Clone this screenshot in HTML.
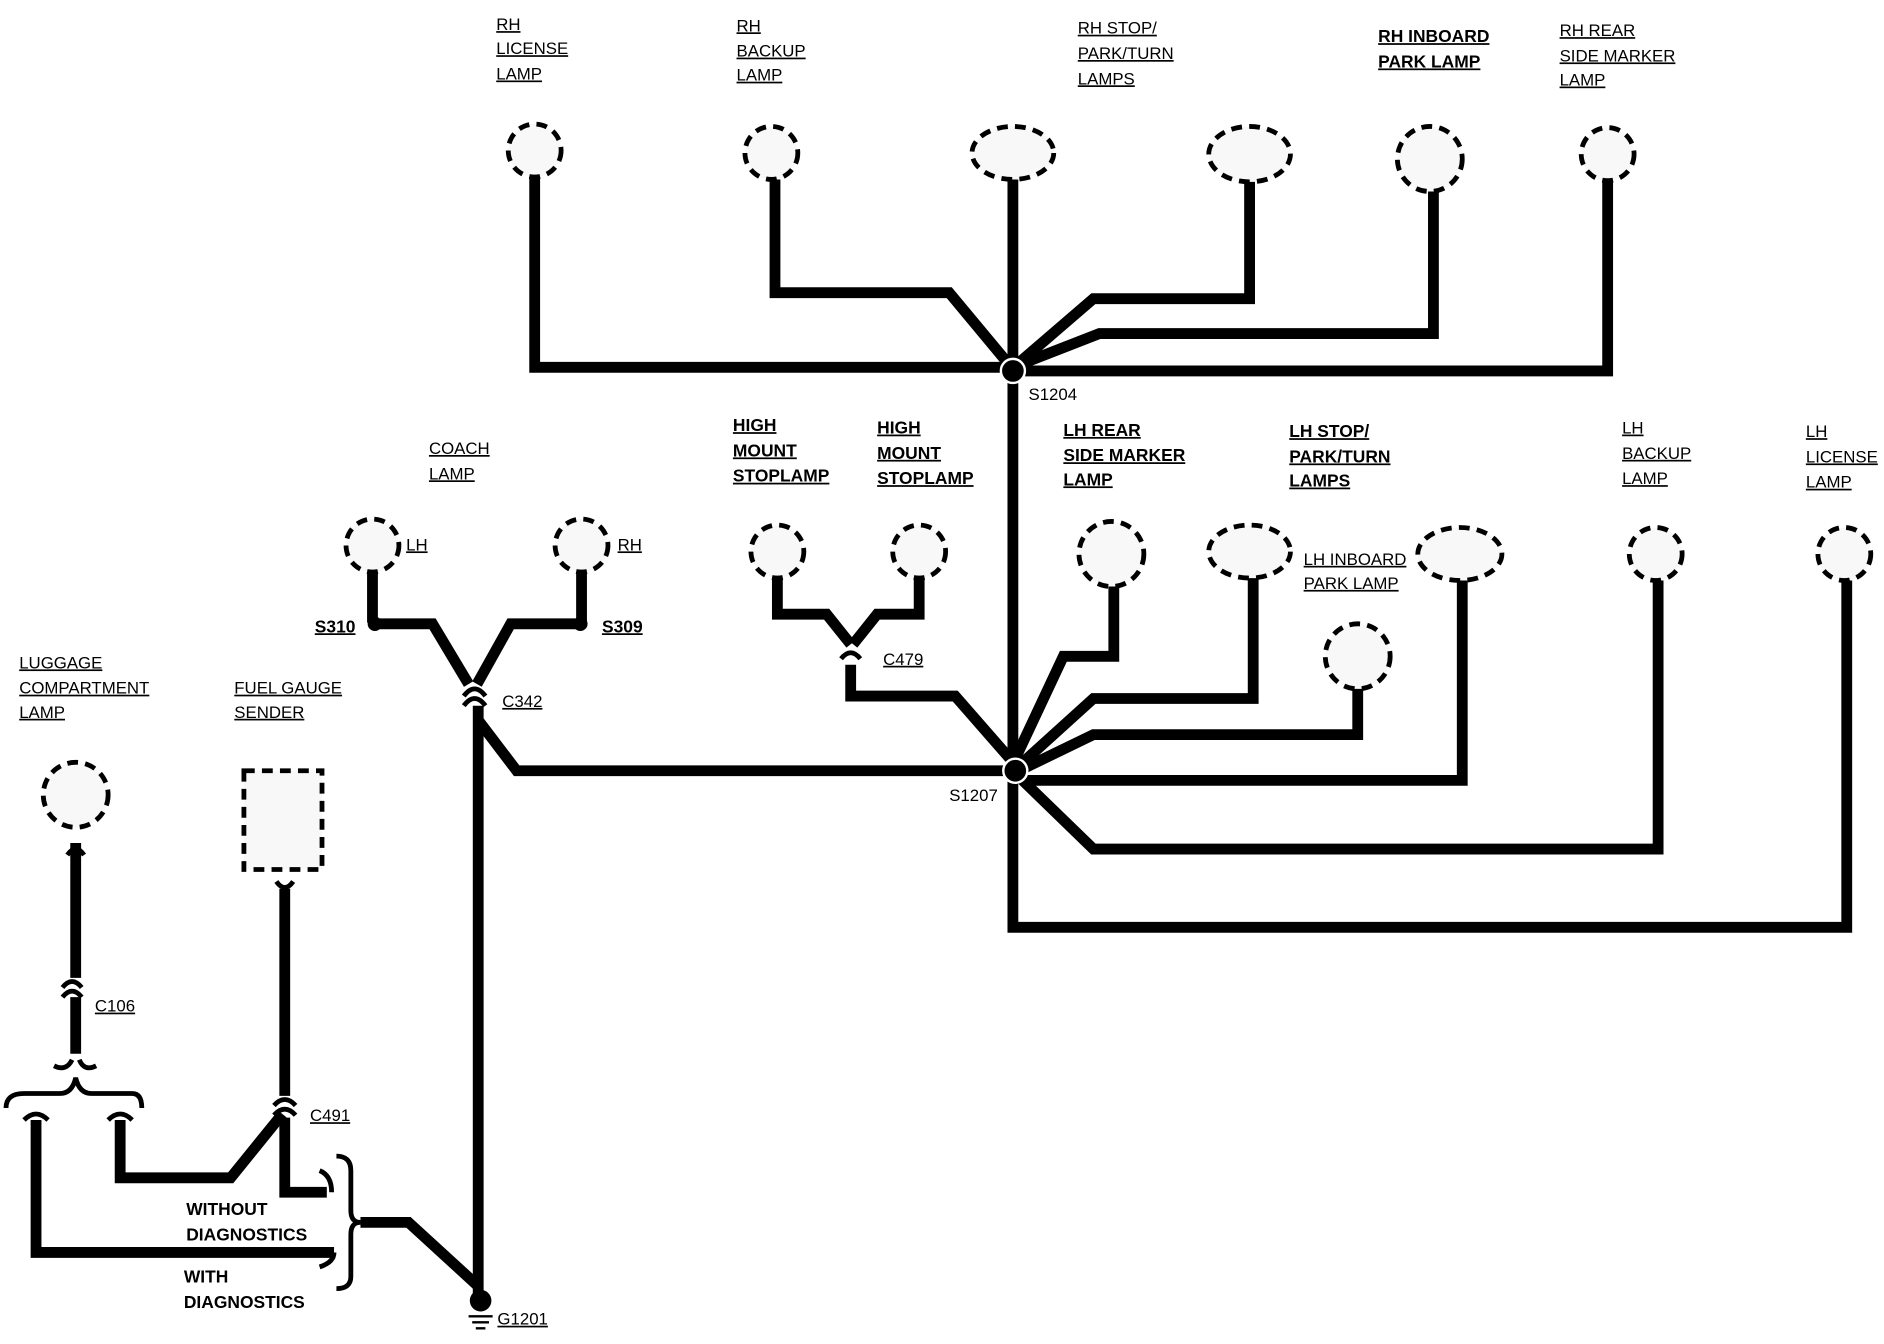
<!DOCTYPE html>
<html><head><meta charset="utf-8"><style>
html,body{margin:0;padding:0;background:#fff;}
svg{display:block;}
text{font-family:"Liberation Sans",sans-serif;font-size:14px;fill:#000;text-decoration:underline;}
.b{font-weight:bold;font-size:14.5px;}
.w{fill:none;stroke:#000;stroke-width:9;stroke-linejoin:miter;}
.l{fill:#f8f8f8;stroke:#000;stroke-width:4;stroke-dasharray:9 6;}
.c{fill:none;stroke:#000;stroke-width:4;}
</style></head><body>
<svg width="1884" height="1344" viewBox="0 0 1568 1116" preserveAspectRatio="none" xmlns="http://www.w3.org/2000/svg">
<circle class="l" cx="445" cy="125" r="22"/>
<circle class="l" cx="642" cy="127" r="22"/>
<ellipse class="l" cx="843" cy="127" rx="34" ry="22"/>
<ellipse class="l" cx="1040" cy="128" rx="34" ry="23"/>
<circle class="l" cx="1190" cy="132" r="27"/>
<circle class="l" cx="1338" cy="128" r="22"/>
<polyline class="w" points="445,147 445,305 840,305"/>
<polyline class="w" points="645,149 645,243 790,243 840,303"/>
<polyline class="w" points="843,149 843,770 1537,770 1537,482"/>
<polyline class="w" points="1040,151 1040,248 910,248 846,303"/>
<polyline class="w" points="1193,159 1193,277 915,277 848,303"/>
<polyline class="w" points="1338,150 1338,308 848,308"/>
<circle cx="843" cy="308" r="10" fill="#000" stroke="#fff" stroke-width="2"/>
<circle class="l" cx="1535" cy="460" r="22"/>
<circle class="l" cx="1378" cy="460" r="22"/>
<ellipse class="l" cx="1215" cy="460" rx="35" ry="22"/>
<circle class="l" cx="1130" cy="545" r="27"/>
<ellipse class="l" cx="1040" cy="458" rx="34" ry="22"/>
<circle class="l" cx="925" cy="460" r="27"/>
<circle class="l" cx="647" cy="458" r="22"/>
<circle class="l" cx="765" cy="458" r="22"/>
<circle class="l" cx="310" cy="453" r="22"/>
<circle class="l" cx="484" cy="453" r="22"/>
<circle class="l" cx="63" cy="660" r="27"/>
<rect class="l" x="203" y="640" width="65" height="82"/>
<polyline class="w" points="1380,482 1380,705 910,705 848,645"/>
<polyline class="w" points="1217,482 1217,648 850,648"/>
<polyline class="w" points="1130,572 1130,610 910,610 848,640"/>
<polyline class="w" points="1043,480 1043,580 910,580 848,636"/>
<polyline class="w" points="927,487 927,545 885,545 845,630"/>
<polyline class="w" points="647,480 647,510 688,510 708,535"/>
<polyline class="w" points="765,480 765,510 730,510 710,535"/>
<polyline class="w" points="708,552 708,578 795,578 845,635"/>
<polyline class="w" points="310,475 310,517"/>
<polyline class="w" points="484,475 484,517"/>
<polyline class="w" points="312,518 360,518 390,568"/>
<polyline class="w" points="483,518 425,518 397,568"/>
<polyline class="w" points="398,586 398,1078"/>
<polyline class="w" points="398,598 430,640 845,640"/>
<circle cx="845" cy="640" r="10" fill="#000" stroke="#fff" stroke-width="2"/>
<circle cx="312" cy="518" r="6" fill="#000"/>
<circle cx="483" cy="518" r="6" fill="#000"/>
<path class="c" d="M386,578 Q395,566 404,578 M386,586 Q395,574 404,586"/>
<path class="c" d="M700,547 Q708,537 716,547"/>
<path class="c" d="M52,820 Q60,810 68,820 M52,828 Q60,818 68,828"/>
<path class="c" d="M228,918 Q237,908 246,918 M228,926 Q237,916 246,926"/>
<path class="c" d="M230,732 Q237,742 244,732"/>
<path class="c" d="M56,710 Q63,700 70,710"/>
<polyline class="w" points="63,700 63,812"/>
<polyline class="w" points="63,828 63,875"/>
<polyline class="w" points="237,738 237,910"/>
<path class="c" d="M5,920 Q5,908 20,908 L50,908 Q60,908 63,895 Q66,908 76,908 L110,908 Q118,908 118,920"/>
<path class="c" d="M45,885 Q55,890 60,880 M80,885 Q70,890 66,880"/>
<path class="c" d="M20,930 Q30,920 40,930 M90,930 Q100,920 110,930"/>
<polyline class="w" points="30,930 30,1040 278,1040"/>
<polyline class="w" points="100,930 100,978 192,978 235,925"/>
<polyline class="w" points="237,928 237,990 272,990"/>
<path class="c" d="M280,960 Q292,960 292,972 L292,1005 Q292,1015 300,1015 Q292,1015 292,1025 L292,1060 Q292,1070 280,1070"/>
<path class="c" d="M266,972 Q276,976 276,990 M266,1052 Q278,1048 278,1040"/>
<polyline class="w" points="300,1015 340,1015 398,1068"/>
<circle cx="400" cy="1080" r="9" fill="#000"/>
<path d="M390,1093 H410 M393,1098 H407 M396,1103 H404" stroke="#000" stroke-width="2"/>
<text x="413" y="25">RH</text><text x="413" y="45">LICENSE</text><text x="413" y="66">LAMP</text>
<text x="613" y="26">RH</text><text x="613" y="47">BACKUP</text><text x="613" y="67">LAMP</text>
<text x="897" y="28">RH STOP/</text><text x="897" y="49">PARK/TURN</text><text x="897" y="70">LAMPS</text>
<text x="1147" y="35" class="b">RH INBOARD</text><text x="1147" y="56" class="b">PARK LAMP</text>
<text x="1298" y="30">RH REAR</text><text x="1298" y="51">SIDE MARKER</text><text x="1298" y="71">LAMP</text>
<text x="856" y="332" style="text-decoration:none">S1204</text>
<text x="357" y="377">COACH</text><text x="357" y="398">LAMP</text>
<text x="610" y="358" class="b">HIGH</text><text x="610" y="379" class="b">MOUNT</text><text x="610" y="400" class="b">STOPLAMP</text>
<text x="730" y="360" class="b">HIGH</text><text x="730" y="381" class="b">MOUNT</text><text x="730" y="402" class="b">STOPLAMP</text>
<text x="885" y="362" class="b">LH REAR</text><text x="885" y="383" class="b">SIDE MARKER</text><text x="885" y="403" class="b">LAMP</text>
<text x="1073" y="363" class="b">LH STOP/</text><text x="1073" y="384" class="b">PARK/TURN</text><text x="1073" y="404" class="b">LAMPS</text>
<text x="1350" y="360">LH</text><text x="1350" y="381">BACKUP</text><text x="1350" y="402">LAMP</text>
<text x="1503" y="363">LH</text><text x="1503" y="384">LICENSE</text><text x="1503" y="405">LAMP</text>
<text x="1085" y="469">LH INBOARD</text><text x="1085" y="489">PARK LAMP</text>
<text x="338" y="457">LH</text><text x="514" y="457">RH</text>
<text x="262" y="525" class="b">S310</text><text x="501" y="525" class="b">S309</text>
<text x="418" y="587">C342</text><text x="735" y="552">C479</text>
<text x="790" y="665" style="text-decoration:none">S1207</text>
<text x="16" y="555">LUGGAGE</text><text x="16" y="576">COMPARTMENT</text><text x="16" y="596">LAMP</text>
<text x="195" y="576">FUEL GAUGE</text><text x="195" y="596">SENDER</text>
<text x="79" y="840">C106</text><text x="258" y="931">C491</text>
<text x="155" y="1009" class="b" style="text-decoration:none">WITHOUT</text><text x="155" y="1030" class="b" style="text-decoration:none">DIAGNOSTICS</text>
<text x="153" y="1065" class="b" style="text-decoration:none">WITH</text><text x="153" y="1086" class="b" style="text-decoration:none">DIAGNOSTICS</text>
<text x="414" y="1100">G1201</text>
</svg>
</body></html>
